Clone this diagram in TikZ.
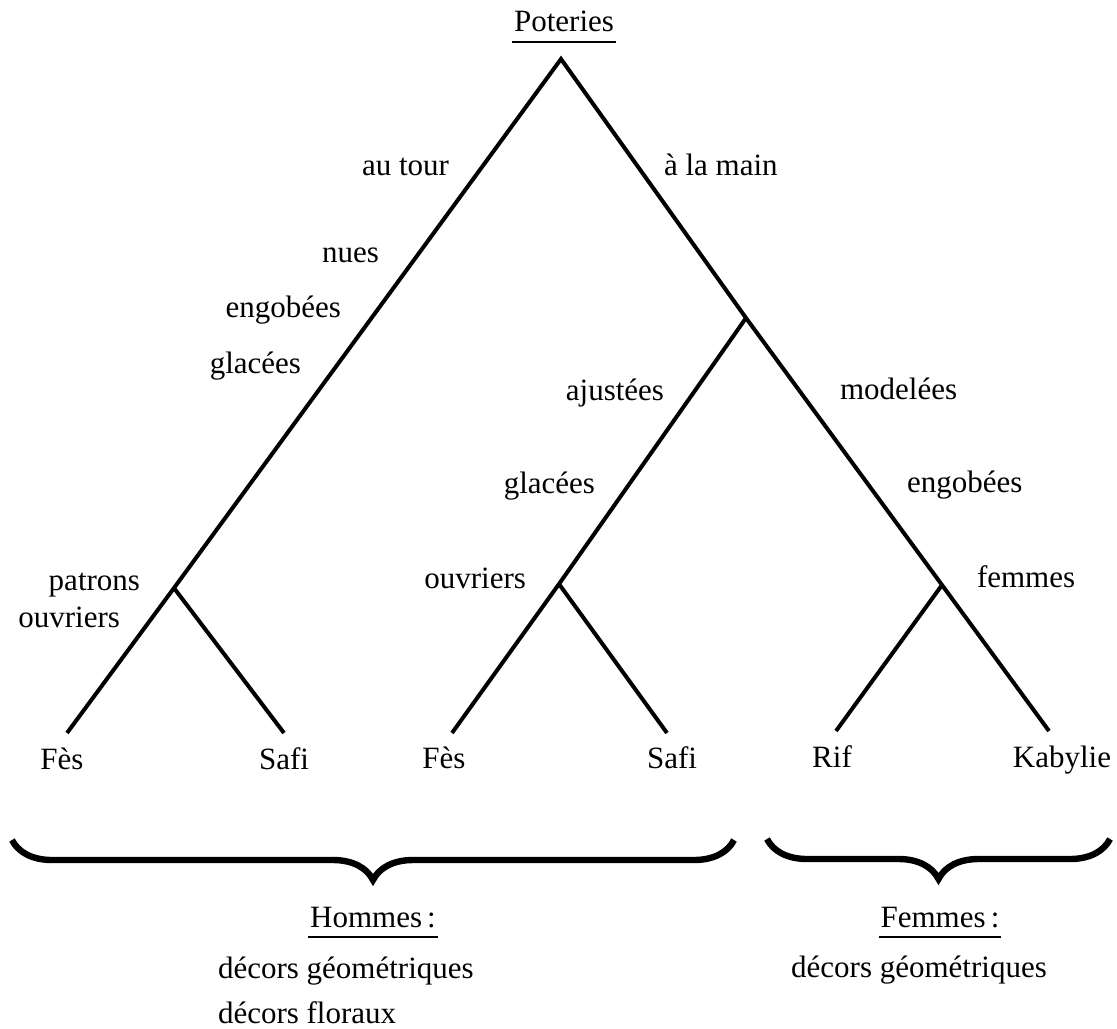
\documentclass[tikz,border=0pt]{standalone}
\usepackage{fontspec}
\setmainfont{Liberation Serif}
\usetikzlibrary{decorations.pathreplacing}
\def\ulgap{5pt}

\begin{document}
\begin{tikzpicture}[x=0.5pt,y=-0.5pt,line width=2pt,font=\fontsize{15.5}{18}\selectfont]
    \tikzstyle{every node}=[inner sep=0pt]
    \tikzstyle{left label}=[anchor=base east]
    \tikzstyle{right label}=[anchor=base west]
    \tikzstyle{leaf}=[anchor=base]
    \tikzstyle{uline}=[line width=0.8pt]
    \tikzstyle{accolade}=[line width=3.2pt, decorate, decoration={brace, mirror, amplitude=20pt}]

    \useasboundingbox (0,0) rectangle (1117,1028);

    % forks of the tree
    \coordinate (R) at (561,59);
    \coordinate (T) at (174,588);
    \coordinate (M) at (746,318);
    \coordinate (A) at (559,584);
    \coordinate (F) at (942,585);

    % ends of the branches
    \coordinate (E-1) at (67,733);
    \coordinate (E-2) at (284,733);
    \coordinate (E-3) at (452,733);
    \coordinate (E-4) at (667,733);
    \coordinate (E-5) at (836,731);
    \coordinate (E-6) at (1049,731);

    \draw (E-1) -- (T) -- (R) -- (M) -- (F) -- (E-6);
    \draw (T) -- (E-2);
    \draw (M) -- (A) -- (E-3);
    \draw (A) -- (E-4);
    \draw (F) -- (E-5);

    \node (pot) [leaf] at (564,32) {Poteries};
    \draw[uline] ([yshift=-\ulgap]pot.base west) -- ([yshift=-\ulgap]pot.base east);

    \node (tour) [left label] at (451,175) {au tour};
    \node (nues) [left label] at (381,262) {nues};
    \node (engo-1) [left label] at (343,317) {engobées};
    \node (glac-1) [left label] at (303,373) {glacées};
    \node (patr) [left label] at (142,590) {patrons};
    \node (ouvr-1) [left label] at (122,627) {ouvriers};
    \node (ajus) [left label] at (666,400) {ajustées};
    \node (glac-2) [left label] at (597,493) {glacées};
    \node (ouvr-2) [left label] at (528,588) {ouvriers};

    \node (main) [right label] at (662,175) {à la main};
    \node (mode) [right label] at (838,399) {modelées};
    \node (engo-2) [right label] at (905,492) {engobées};
    \node (femm) [right label] at (975,587) {femmes};

    \node (N-1) [leaf] at (62,769) {Fès};
    \node (N-2) [leaf] at (284,769) {Safi};
    \node (N-3) [leaf] at (444,768) {Fès};
    \node (N-4) [leaf] at (672,768) {Safi};
    \node (N-5) [leaf] at (832,767) {Rif};
    \node (N-6) [leaf] at (1062,767) {Kabylie};

    % the two groups
    \coordinate (B-1) at (12,840);
    \coordinate (B-2) at (734,840);
    \coordinate (B-3) at (767,839);
    \coordinate (B-4) at (1110,839);
    \draw[accolade] (B-1) -- (B-2);
    \draw[accolade] (B-3) -- (B-4);

    \node (homm) [leaf] at (373,927) {Hommes\,:};
    \draw[uline] ([yshift=-\ulgap]homm.base west) -- ([yshift=-\ulgap]homm.base east);
    \node (deco-1) [right label] at (216,978) {décors géométriques};
    \node (deco-2) [right label] at (216,1023) {décors floraux};

    \node (fem) [leaf] at (940,927) {Femmes\,:};
    \draw[uline] ([yshift=-\ulgap]fem.base west) -- ([yshift=-\ulgap]fem.base east);
    \node (deco-3) [leaf] at (919,977) {décors géométriques};
\end{tikzpicture}
\end{document}
